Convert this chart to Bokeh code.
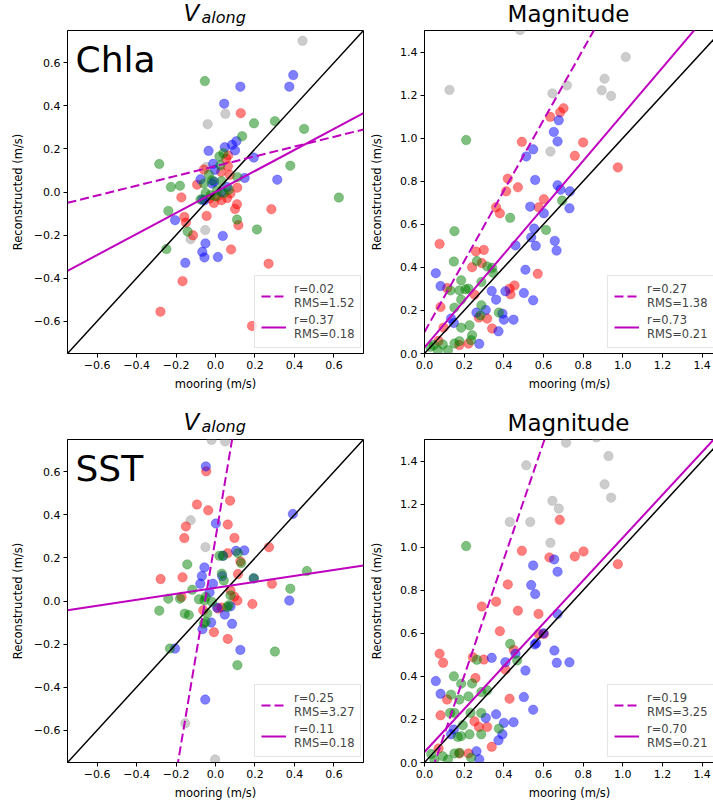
import numpy as np
from bokeh.plotting import figure
from bokeh.models import (Range1d, FixedTicker, CustomJSTickFormatter, Label,
                          Legend, LegendItem)
from bokeh.layouts import column, row
from bokeh.embed import file_html
from bokeh.resources import INLINE
from bokeh.core.properties import value

FONT = "DejaVu Sans"

# ---------------- data ----------------
v_ticks = [-0.6, -0.4, -0.2, 0.0, 0.2, 0.4, 0.6]
mag_ticks = [0.0, 0.2, 0.4, 0.6, 0.8, 1.0, 1.2, 1.4]
row_tags = ["Chla", "SST"]
col_titles = ["V", "along", "Magnitude"]

# Chla, V_along
chla_v_red_x = [0.128, 0.064, 0.054, 0.072, 0.029, -0.093, -0.173, -0.045, -0.158, -0.150, -0.114, 0.109, 0.099, 0.116,
                0.283, 0.079, 0.269, -0.167, -0.279, 0.185, 0.063, -0.059, 0.110, -0.008, 0.030, 0.059, 0.076, 0.011, -0.030]
chla_v_red_y = [0.366, 0.170, 0.154, 0.080, 0.093, 0.034, -0.025, -0.111, -0.116, -0.142, -0.201, -0.057, -0.079, -0.154,
                -0.080, -0.267, -0.333, -0.414, -0.556, -0.622, 0.120, 0.104, 0.020, -0.051, -0.038, -0.028, -0.007, -0.020, -0.030]
chla_v_blue_x = [0.394, 0.374, 0.126, 0.044, 0.106, 0.084, 0.099, 0.047, -0.035, 0.194, -0.012, -0.003, -0.076, 0.313,
                 0.148, -0.007, 0.059, -0.057, -0.205, 0.037, -0.051, -0.067, -0.056, 0.012, -0.153, -0.017, -0.067, 0.030]
chla_v_blue_y = [0.543, 0.489, 0.489, 0.410, 0.236, 0.219, 0.193, 0.208, 0.191, 0.160, 0.131, 0.103, 0.059, 0.057,
                 0.065, 0.048, 0.023, -0.039, -0.131, -0.204, -0.239, -0.278, -0.304, -0.302, -0.329, 0.039, -0.035, 0.000]
chla_v_green_x = [-0.054, 0.301, 0.195, 0.449, 0.135, 0.020, 0.040, -0.285, 0.379, 0.111, -0.226, -0.180, 0.625, -0.239,
                  0.109, 0.210, -0.141, -0.249, 0.025, -0.034, -0.059, -0.017, 0.030, -0.050, -0.076, 0.008, 0.067, -0.025, 0.042, 0.000]
chla_v_green_y = [0.515, 0.329, 0.319, 0.293, 0.259, 0.165, 0.180, 0.130, 0.122, 0.069, 0.023, 0.029, -0.026, -0.088,
                  -0.128, -0.174, -0.184, -0.265, 0.124, 0.080, 0.039, 0.054, 0.050, -0.005, -0.035, 0.008, 0.011, -0.015, -0.005, -0.020]
chla_v_gray_x = [0.441, 0.050, -0.040, -0.052, -0.126, -0.047]
chla_v_gray_y = [0.702, 0.363, 0.315, -0.177, -0.219, 0.116]

# SST, V_along
sst_v_red_x = [-0.047, 0.074, -0.094, -0.037, -0.150, -0.158, 0.062, 0.096, 0.062, 0.271, 0.126, 0.114, -0.278, -0.167,
               0.286, 0.187, 0.111, 0.076, -0.172, -0.008, 0.062, -0.062, 0.013, 0.030, 0.095]
sst_v_red_y = [0.602, 0.466, 0.448, 0.421, 0.346, 0.292, 0.355, 0.293, 0.222, 0.250, 0.184, 0.125, 0.102, 0.110,
               0.080, -0.014, 0.002, 0.049, 0.019, -0.145, -0.176, -0.043, -0.035, -0.030, 0.020]
sst_v_blue_x = [-0.049, 0.392, 0.002, 0.146, 0.104, 0.037, -0.056, -0.069, -0.077, 0.034, -0.013, 0.194, 0.374, -0.022,
                0.047, 0.084, -0.066, -0.205, 0.126, -0.052, 0.008, 0.076, -0.030]
sst_v_blue_y = [0.625, 0.404, 0.360, 0.235, 0.233, 0.210, 0.156, 0.116, 0.080, 0.116, 0.080, 0.105, 0.002, -0.100,
                -0.063, -0.106, -0.131, -0.221, -0.227, -0.458, -0.031, -0.025, 0.040]
sst_v_green_x = [0.463, 0.379, 0.301, 0.111, -0.143, -0.285, -0.239, -0.180, -0.156, -0.135, -0.231, 0.020, 0.039, 0.032,
                 0.194, 0.130, 0.114, -0.118, -0.084, -0.056, -0.050, 0.059, 0.042, -0.050, -0.017, -0.042, 0.067, 0.076, -0.059]
sst_v_green_y = [0.139, 0.057, -0.235, -0.298, 0.170, -0.045, 0.011, 0.011, -0.059, -0.065, -0.221, 0.210, 0.210, 0.127,
                 0.106, 0.176, 0.222, 0.052, 0.008, 0.003, -0.097, -0.028, 0.095, 0.019, -0.005, -0.058, -0.020, 0.026, -0.105]
sst_v_gray_x = [-0.020, 0.049, -0.126, -0.051, -0.153, -0.002]
sst_v_gray_y = [0.748, 0.741, 0.375, 0.250, -0.568, -0.736]

# Chla, magnitude
chla_m_red_x = [0.701, 0.684, 0.634, 0.491, 0.800, 0.758, 0.975, 0.420, 0.412, 0.471, 0.602, 0.576, 0.361, 0.380, 0.076,
                0.259, 0.299, 0.289, 0.240, 0.571, 0.454, 0.429, 0.434, 0.252, 0.114, 0.081, 0.274, 0.316, 0.341, 0.096,
                0.222, 0.176, 0.071]
chla_m_red_y = [1.139, 1.120, 1.099, 0.983, 0.980, 0.918, 0.864, 0.812, 0.753, 0.772, 0.716, 0.679, 0.679, 0.651, 0.509,
                0.474, 0.481, 0.420, 0.401, 0.370, 0.316, 0.301, 0.275, 0.273, 0.304, 0.216, 0.167, 0.162, 0.116, 0.120,
                0.046, 0.039, 0.059]
chla_m_blue_x = [0.677, 0.652, 0.671, 0.548, 0.513, 0.558, 0.671, 0.686, 0.733, 0.731, 0.533, 0.602, 0.553, 0.538, 0.561,
                 0.657, 0.666, 0.459, 0.509, 0.057, 0.081, 0.339, 0.361, 0.408, 0.501, 0.548, 0.262, 0.309, 0.393, 0.400,
                 0.449, 0.373, 0.134, 0.148, 0.276]
chla_m_blue_y = [1.083, 1.029, 0.985, 0.948, 0.915, 0.806, 0.781, 0.761, 0.753, 0.674, 0.682, 0.651, 0.580, 0.539, 0.500,
                 0.523, 0.478, 0.502, 0.389, 0.373, 0.313, 0.290, 0.250, 0.289, 0.281, 0.247, 0.190, 0.202, 0.185, 0.157,
                 0.157, 0.103, 0.162, 0.142, 0.045]
chla_m_green_x = [0.210, 0.432, 0.151, 0.613, 0.694, 0.264, 0.148, 0.316, 0.341, 0.345, 0.185, 0.287, 0.131, 0.176, 0.207,
                  0.222, 0.185, 0.151, 0.287, 0.375, 0.282, 0.185, 0.227, 0.240, 0.235, 0.176, 0.151, 0.047, 0.067, 0.092,
                  0.118, 0.029]
chla_m_green_y = [0.991, 0.630, 0.568, 0.574, 0.710, 0.429, 0.427, 0.404, 0.398, 0.375, 0.340, 0.332, 0.293, 0.293, 0.298,
                  0.301, 0.250, 0.213, 0.224, 0.190, 0.177, 0.120, 0.131, 0.085, 0.062, 0.057, 0.046, 0.039, 0.015, 0.042,
                  0.015, 0.031]
chla_m_gray_x = [0.482, 1.015, 0.908, 0.894, 0.941, 0.718, 0.645, 0.126, 0.635]
chla_m_gray_y = [1.502, 1.377, 1.276, 1.222, 1.196, 1.245, 1.208, 1.224, 0.938]

# SST, magnitude
sst_m_red_x = [0.682, 0.491, 0.802, 0.758, 0.630, 0.975, 0.420, 0.361, 0.289, 0.471, 0.575, 0.380, 0.576, 0.602, 0.076,
               0.094, 0.244, 0.450, 0.299, 0.257, 0.408, 0.114, 0.429, 0.081, 0.252, 0.274, 0.316, 0.339, 0.071, 0.222, 0.176]
sst_m_red_y = [1.127, 0.983, 0.980, 0.957, 0.952, 0.921, 0.827, 0.747, 0.724, 0.705, 0.690, 0.610, 0.597, 0.597, 0.505,
               0.463, 0.489, 0.523, 0.478, 0.392, 0.431, 0.292, 0.296, 0.219, 0.191, 0.165, 0.165, 0.073, 0.065, 0.042, 0.042]
sst_m_blue_x = [0.654, 0.548, 0.671, 0.538, 0.558, 0.671, 0.600, 0.556, 0.563, 0.655, 0.667, 0.731, 0.459, 0.408, 0.339,
                0.509, 0.057, 0.081, 0.501, 0.548, 0.361, 0.309, 0.400, 0.449, 0.393, 0.373, 0.148, 0.134, 0.262, 0.276]
sst_m_blue_y = [0.943, 0.915, 0.886, 0.824, 0.782, 0.690, 0.600, 0.548, 0.554, 0.520, 0.463, 0.465, 0.505, 0.466, 0.486,
                0.427, 0.378, 0.319, 0.304, 0.245, 0.224, 0.207, 0.184, 0.187, 0.131, 0.103, 0.153, 0.131, 0.052, 0.015]
sst_m_green_x = [0.210, 0.432, 0.264, 0.467, 0.148, 0.185, 0.240, 0.134, 0.316, 0.287, 0.222, 0.176, 0.129, 0.151, 0.232,
                 0.286, 0.193, 0.375, 0.286, 0.168, 0.185, 0.227, 0.151, 0.176, 0.235, 0.034, 0.092, 0.118, 0.050]
sst_m_green_y = [1.005, 0.551, 0.477, 0.474, 0.400, 0.366, 0.367, 0.315, 0.335, 0.327, 0.307, 0.292, 0.230, 0.230, 0.230,
                 0.230, 0.173, 0.157, 0.131, 0.119, 0.122, 0.131, 0.042, 0.045, 0.022, 0.039, 0.029, 0.014, 0.011]
sst_m_gray_x = [0.714, 0.867, 0.928, 0.513, 0.908, 0.941, 0.645, 0.677, 0.430, 0.533, 0.635]
sst_m_gray_y = [1.485, 1.510, 1.423, 1.380, 1.292, 1.230, 1.215, 1.179, 1.117, 1.117, 1.020]

# regression fits: (dashed, solid) per panel
fit_slope = {"chla_v": [0.227, 0.488], "chla_m": [1.64, 1.083], "sst_v": [5.47, 0.139], "sst_m": [2.71, 0.995]}
fit_icpt = {"chla_v": [0.12, 0.0], "chla_m": [0.10, 0.028], "sst_v": [0.29, 0.061], "sst_m": [-0.14, 0.049]}
fit_r = {"chla_v": ["0.02", "0.37"], "chla_m": ["0.27", "0.73"], "sst_v": ["0.25", "0.11"], "sst_m": ["0.19", "0.70"]}
fit_rms = {"chla_v": ["1.52", "0.18"], "chla_m": ["1.38", "0.21"], "sst_v": ["3.27", "0.18"], "sst_m": ["3.25", "0.21"]}

COLORS = {"red": "#ff0000", "blue": "#0000ff", "green": "#008000", "gray": "#999999"}
MAG = "#bf00bf"

series = {
    "chla_v": {"red": (chla_v_red_x, chla_v_red_y), "blue": (chla_v_blue_x, chla_v_blue_y),
               "green": (chla_v_green_x, chla_v_green_y), "gray": (chla_v_gray_x, chla_v_gray_y)},
    "sst_v": {"red": (sst_v_red_x, sst_v_red_y), "blue": (sst_v_blue_x, sst_v_blue_y),
              "green": (sst_v_green_x, sst_v_green_y), "gray": (sst_v_gray_x, sst_v_gray_y)},
    "chla_m": {"red": (chla_m_red_x, chla_m_red_y), "blue": (chla_m_blue_x, chla_m_blue_y),
               "green": (chla_m_green_x, chla_m_green_y), "gray": (chla_m_gray_x, chla_m_gray_y)},
    "sst_m": {"red": (sst_m_red_x, sst_m_red_y), "blue": (sst_m_blue_x, sst_m_blue_y),
              "green": (sst_m_green_x, sst_m_green_y), "gray": (sst_m_gray_x, sst_m_gray_y)},
}

FMT = CustomJSTickFormatter(code="var s = tick.toFixed(1); return s.replace('-', '\u2212');")

W_LEFT, W_RIGHT = 367, 346
BASE_FIX = 0.42  # svg baseline correction, in em


def title_strip(height, base):
    """A bare strip above a row of panels that carries the column titles."""
    s = figure(width=W_LEFT + W_RIGHT, height=height, x_range=Range1d(0, W_LEFT + W_RIGHT),
               y_range=Range1d(height, 0), min_border=0, output_backend="svg",
               toolbar_location=None, title=None)
    s.axis.visible = False
    s.xgrid.grid_line_color = None
    s.ygrid.grid_line_color = None
    s.outline_line_color = None
    s.text(x=[183], y=[base - BASE_FIX * 23], text=[col_titles[0]], text_font=value(FONT),
           text_font_style="italic", text_font_size="23px", text_baseline="alphabetic",
           text_align="left", text_color="black")
    s.text(x=[201], y=[base + 2 - BASE_FIX * 16], text=[col_titles[1]], text_font=value(FONT),
           text_font_style="italic", text_font_size="16px", text_baseline="alphabetic",
           text_align="left", text_color="black")
    s.text(x=[568], y=[base + 1 - BASE_FIX * 23], text=[col_titles[2]], text_font=value(FONT),
           text_font_style="normal", text_font_size="23px", text_baseline="alphabetic",
           text_align="center", text_color="black")
    return s


def make_panel(key, is_mag, top, tag):
    if is_mag:
        xlo, xhi, ylo, yhi = 0.0, 1.4624, 0.0, 1.5
        ticks = mag_ticks
        fw, bl, br = 290, 56, 0
    else:
        xlo, xhi, ylo, yhi = -0.75, 0.75, -0.75, 0.75
        ticks = v_ticks
        fw, bl, br = 296, 67, 4
    bt, bb = (2, 50) if top else (2, 43)
    p = figure(frame_width=fw, frame_height=323, min_border_left=bl, min_border_right=br,
               min_border_top=bt, min_border_bottom=bb, title=None,
               x_range=Range1d(xlo, xhi), y_range=Range1d(ylo, yhi),
               output_backend="svg", toolbar_location=None)
    p.xgrid.grid_line_color = None
    p.ygrid.grid_line_color = None
    p.outline_line_color = "black"
    p.outline_line_width = 1
    for ax in (p.xaxis[0], p.yaxis[0]):
        ax.ticker = FixedTicker(ticks=ticks)
        ax.formatter = FMT
        ax.minor_tick_line_color = None
        ax.major_tick_in = 0
        ax.major_tick_out = 4
        ax.major_label_standoff = 3
        ax.major_label_text_font = FONT
        ax.major_label_text_font_size = "11px"
        ax.major_label_text_color = "black"
        ax.axis_label_text_font = FONT
        ax.axis_label_text_font_size = "11.5px"
        ax.axis_label_text_font_style = "normal"
        ax.axis_label_text_color = "black"
        ax.axis_line_color = "black"
    p.xaxis.axis_label = "mooring (m/s)"
    p.yaxis.axis_label = "Reconstructed (m/s)"
    p.xaxis.axis_label_standoff = 5
    p.yaxis.axis_label_standoff = 13 if is_mag else 6

    for cname in ["gray", "red", "blue", "green"]:
        xs, ys = series[key][cname]
        p.scatter(xs, ys, size=9.5, fill_color=COLORS[cname], fill_alpha=0.5,
                  line_color=COLORS[cname], line_alpha=0.5, line_width=0.5)

    xe = np.array([xlo, xhi])
    p.line(xe, xe, line_color="black", line_width=1.5)
    sl, ic = fit_slope[key], fit_icpt[key]
    r_dash = p.line(xe, sl[0] * xe + ic[0], line_color=MAG, line_width=2, line_dash="9 4")
    r_sol = p.line(xe, sl[1] * xe + ic[1], line_color=MAG, line_width=2)

    items = [LegendItem(label="r=%s\nRMS=%s" % (fit_r[key][0], fit_rms[key][0]), renderers=[r_dash]),
             LegendItem(label="r=%s\nRMS=%s" % (fit_r[key][1], fit_rms[key][1]), renderers=[r_sol])]
    leg = Legend(items=items, location=(183 if is_mag else 187, 5), label_text_font=FONT,
                 label_text_font_size="11.5px",
                 glyph_width=25, label_standoff=8, padding=6, spacing=3, margin=0,
                 border_line_color="#cccccc", background_fill_alpha=0.8)
    p.add_layout(leg)

    if not is_mag:
        p.add_layout(Label(x=xlo, y=yhi, x_offset=8, y_offset=-29, text=tag, text_align="left",
                           text_baseline="alphabetic", text_font=FONT, text_font_size="36px",
                           text_color="black"))
    return p


t1 = title_strip(28, 22)
p1 = make_panel("chla_v", False, True, row_tags[0])
p2 = make_panel("chla_m", True, True, row_tags[0])
t2 = title_strip(34, 28)
p3 = make_panel("sst_v", False, False, row_tags[1])
p4 = make_panel("sst_m", True, False, row_tags[1])

layout = column(t1, row(p1, p2), t2, row(p3, p4))
open("out.html", "w").write(file_html(layout, INLINE))
